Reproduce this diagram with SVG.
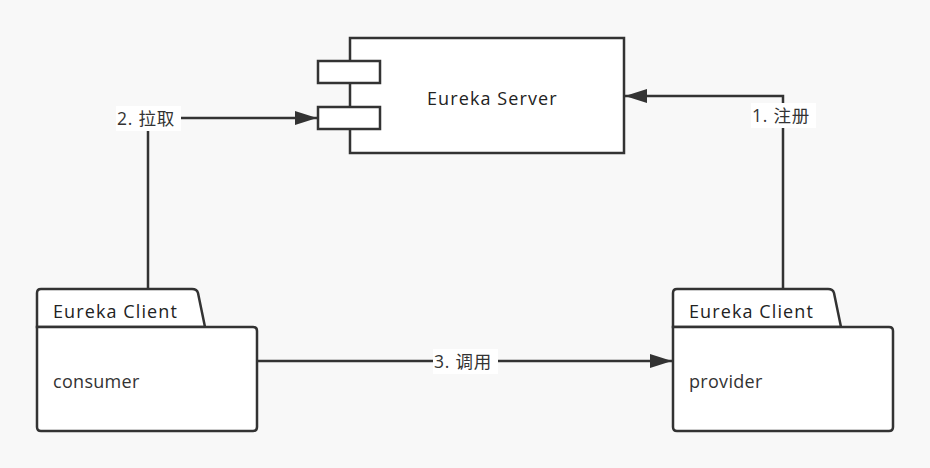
<svg xmlns="http://www.w3.org/2000/svg" width="930" height="468" viewBox="0 0 930 468">
<defs>
<marker id="arr" markerWidth="22" markerHeight="14" refX="22" refY="7" orient="auto" markerUnits="userSpaceOnUse">
<path d="M0,0 L22,7 L0,14 Z" fill="#333"/>
</marker>
<style>
.s{fill:#fff;stroke:#333;stroke-width:2.5}
.t{font-family:"Open Sans","Noto Sans CJK SC",sans-serif;fill:#333}
.c{fill:none;stroke:#333;stroke-width:2.5}
.lb{fill:#fff}
.h{font-size:18px;letter-spacing:1.1px;fill:#222}
.b{font-size:18px;letter-spacing:0.3px}
.l{font-size:17.5px;letter-spacing:0.8px}
</style>
</defs>
<rect width="930" height="468" fill="#f8f8f8"/>
<g id="server">
<rect class="s" x="350" y="38" width="274" height="115"/>
<rect class="s" x="318" y="61" width="62" height="22"/>
<rect class="s" x="318" y="107" width="62" height="22"/>
<text class="t h" x="427" y="105">Eureka Server</text>
</g>
<g id="consumer">
<path class="s" d="M37,327 L37,293 Q37,289 41,289 L192,289 Q197,289 198,293 L205,327 Z"/>
<path class="s" d="M37,327 L253,327 Q257,327 257,331 L257,427 Q257,431 253,431 L41,431 Q37,431 37,427 Z"/>
<text class="t h" x="53" y="318">Eureka Client</text>
<text class="t b" x="53" y="388">consumer</text>
</g>
<g id="provider">
<path class="s" d="M673,327 L673,293 Q673,289 677,289 L828,289 Q833,289 834,293 L841,327 Z"/>
<path class="s" d="M673,327 L889,327 Q893,327 893,331 L893,427 Q893,431 889,431 L677,431 Q673,431 673,427 Z"/>
<text class="t h" x="689" y="318">Eureka Client</text>
<text class="t b" x="689" y="388">provider</text>
</g>
<g id="connectors">
<path class="c" d="M148,288 L148,118 L317,118" marker-end="url(#arr)"/>
<rect class="lb" x="116" y="106" width="65" height="25"/>
<text class="t l" x="117" y="125">2. 拉取</text>
<path class="c" d="M783,288 L783,96 L625,96" marker-end="url(#arr)"/>
<rect class="lb" x="751" y="103" width="65" height="25"/>
<text class="t l" x="752" y="122">1. 注册</text>
<path class="c" d="M257,361 L672,361" marker-end="url(#arr)"/>
<rect class="lb" x="433" y="349" width="65" height="25"/>
<text class="t l" x="434" y="368">3. 调用</text>
</g>
</svg>
